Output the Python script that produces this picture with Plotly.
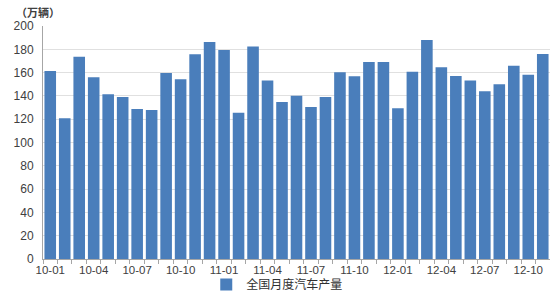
import plotly.graph_objects as go

months = ["10-01","10-02","10-03","10-04","10-05","10-06","10-07","10-08","10-09","10-10","10-11","10-12",
          "11-01","11-02","11-03","11-04","11-05","11-06","11-07","11-08","11-09","11-10","11-11","11-12",
          "12-01","12-02","12-03","12-04","12-05","12-06","12-07","12-08","12-09","12-10","12-11"]
production = [161.4,120.8,173.7,156.0,141.4,139.0,128.8,127.9,159.7,154.2,175.7,186.3,
              179.4,125.6,182.5,153.3,134.8,140.2,130.5,139.0,160.2,156.8,169.1,169.1,
              129.3,160.8,188.0,164.5,157.0,153.3,143.9,149.9,165.9,158.2,176.0]
series_name = "全国月度汽车产量"
unit_label = "（万辆）"
y_ticks = [0,20,40,60,80,100,120,140,160,180,200]

idx = list(range(len(months)))
tick_idx = idx[::3]
tick_text = [months[i] for i in tick_idx]

fig = go.Figure()
fig.add_trace(go.Bar(x=idx, y=production, name=series_name,
                     marker=dict(color="#4a7ebb", line=dict(width=0)),
                     showlegend=True))

font_main = "Liberation Sans, Noto Sans CJK SC, sans-serif"
fig.update_layout(
    width=550, height=300,
    margin=dict(l=43, r=0, t=26, b=41),
    paper_bgcolor="white", plot_bgcolor="white",
    bargap=0.2,
    font=dict(family=font_main, size=12, color="#404040"),
    showlegend=True,
    legend=dict(orientation="h", x=0.322, xanchor="left", y=-0.172, yanchor="bottom",
                font=dict(family="Noto Sans CJK SC", size=12, color="#303030"),
                itemwidth=30, bgcolor="rgba(0,0,0,0)"),
    xaxis=dict(range=[-0.5, len(months)-0.5], tickmode="array", tickvals=tick_idx, ticktext=tick_text,
               ticks="", showgrid=False, showline=True, linecolor="#a6a6a6", linewidth=1,
               tickfont=dict(size=11.5, color="#404040"), zeroline=False,
               minor=dict(ticks="outside", tick0=-0.5, dtick=1, ticklen=4, tickcolor="#a6a6a6")),
    yaxis=dict(range=[0,200], tickmode="array", tickvals=y_ticks, ticks="",
               showgrid=True, gridcolor="#e0e0e0", gridwidth=1,
               showline=True, linecolor="#a6a6a6", linewidth=1, zeroline=False,
               tickfont=dict(size=12, color="#404040"), ticklabelstandoff=6),
)
fig.add_annotation(text="<b>" + unit_label + "</b>", xref="paper", yref="paper",
                   x=-0.058, y=1.062, xanchor="left", yanchor="middle", showarrow=False,
                   font=dict(family="Noto Sans CJK SC", size=11, color="#404040"))

fig.write_html("out.html")
